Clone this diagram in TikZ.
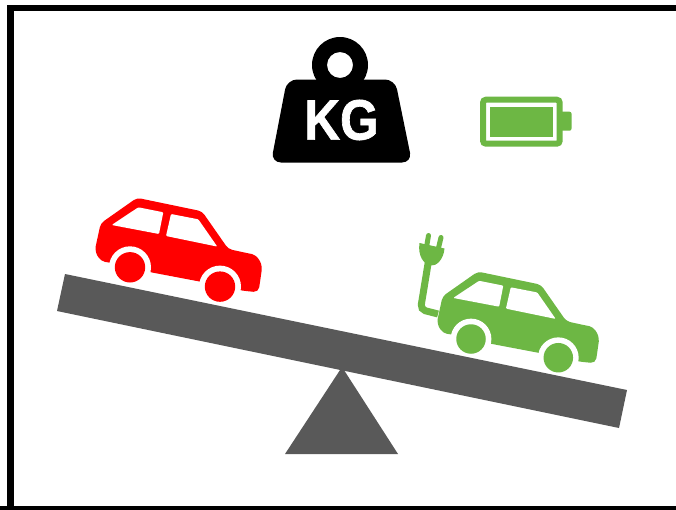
\documentclass[tikz,border=0pt]{standalone}
\usepackage{fontspec}
\newfontfamily\kgfont[FakeStretch=0.87,FakeBold=1.2]{Liberation Sans Bold}
\usepackage{tikz}
\definecolor{beamgray}{HTML}{595959}
\definecolor{evgreen}{HTML}{6DB744}
\definecolor{carred}{HTML}{FF0000}
\tikzset{
  pics/car/.style={code={
    % Body
    \fill[#1, rounded corners=4pt] (-20,-4.7) [sharp corners] .. controls (-29,-6) and (-35.5,-12) .. (-34.3,-21)
      [rounded corners=4pt] -- (-29.3,-44) -- (7,-69.5) -- (72,-56) -- (98.3,-18.3) -- (118,-14)
      [sharp corners] .. controls (126,-12.5) and (132.5,-6) .. (131.7,3)
      [rounded corners=5pt] -- (128.5,25) -- (111.7,23.3) -- (70,14.3) -- (21,5) -- cycle;
    % Windows
    \fill[white, rounded corners=1pt] (-18.3,-42.3) -- (8.3,-60) -- (33.3,-55) -- (29,-33.3) -- cycle;
    \fill[white, rounded corners=1pt] (41,-53.3) -- (68.3,-48) -- (87.3,-20.7) -- (36,-31.3) -- cycle;
    % Wheels
    \fill[white] (0,0) circle (21) (90,19.3) circle (21);
    \fill[#1] (0,0) circle (15.2) (90,19.3) circle (15.2);
  }}
}
\begin{document}
\begin{tikzpicture}[x=1pt, y=-1pt,
    cord/.style={evgreen, line width=7pt, rounded corners=5pt},
    prong/.style={evgreen, line width=5pt, line cap=round}
  ]
  \clip (0,0) rectangle (676,509);
  \fill[white] (0,0) rectangle (676,509);

  % Frame
  \draw[black, line width=6.5pt] (10.3,509) -- (10.3,8) -- (690,8);
  \draw[black, line width=6.5pt] (0,509) -- (690,509);

  % Weight
  \fill[black, even odd rule] (340,65) circle (28) (340,65) circle (13);
  \fill[black, rounded corners=10pt] (287,79.5) -- (395,79.5) -- (412,162.5) -- (271,162.5) -- cycle;
  \node[white, inner sep=0pt, font=\kgfont\fontsize{57}{57}\selectfont] (kg) at (341.5,120) {KG};

  % Battery
  \draw[evgreen, line width=6pt, rounded corners=3pt] (483,99.7) rectangle (559.7,143.7);
  \fill[evgreen] (490,107) rectangle (552.7,136.7);
  \fill[evgreen, rounded corners=2pt] (560,111.7) -- (571.5,111.7) -- (571.5,130.7) -- (560,130.7) -- cycle;

  % Cars
  \pic at (130,267.3) {car=carred};
  \pic[scale=.97] at (471,339) {car=evgreen};

  % Plug
  \draw[cord] (438,314) -- (420.5,309.5) -- (428.3,262);
  \fill[evgreen] (419.5,243) -- (444.5,248.5) .. controls (443.5,260) and (436,266.5) .. (430.5,265.5)
    .. controls (424,264.5) and (417.5,256) .. cycle;
  \draw[prong] (428.5,235.5) -- (426.7,246);
  \draw[prong] (441,237.5) -- (438.5,248);

  % Seesaw
  \fill[beamgray] (65,274) -- (57,311) -- (619,428) -- (627,390) -- cycle;
  \fill[beamgray] (342,367) -- (398,454) -- (285,454) -- cycle;
\end{tikzpicture}
\end{document}
